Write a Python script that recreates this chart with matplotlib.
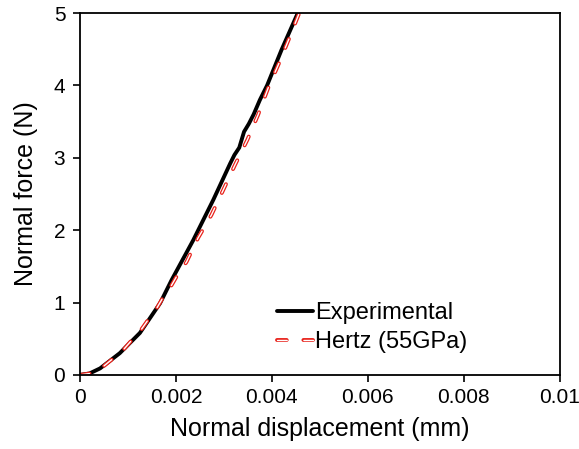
import numpy as np
import matplotlib
matplotlib.use("Agg")
import matplotlib.pyplot as plt

plt.rcParams["font.family"] = ["Liberation Sans", "DejaVu Sans"]
plt.rcParams["lines.scale_dashes"] = False

# values
exp_x = [0, 0.0002, 0.00042, 0.00083, 0.00125, 0.00167, 0.00191, 0.00236, 0.00278,
         0.00313, 0.00322, 0.00332, 0.00342, 0.00352, 0.00362, 0.00375, 0.0039,
         0.0042, 0.00454, 0.0046]
exp_y = [0, 0.02, 0.09, 0.30, 0.58, 0.99, 1.31, 1.86, 2.42,
         2.92, 3.04, 3.14, 3.36, 3.47, 3.60, 3.80, 4.0,
         4.49, 5.0, 5.1]

hertz_x = [0, 0.00021, 0.00042, 0.00066, 0.00087, 0.00108, 0.00125, 0.00142, 0.0016,
           0.00174, 0.00191, 0.00205, 0.00222, 0.00246, 0.00274, 0.00299, 0.00323,
           0.00349, 0.00371, 0.00392, 0.00415, 0.00436, 0.00457, 0.0046]
hertz_y = [0, 0.02, 0.08, 0.21, 0.32, 0.48, 0.60, 0.76, 0.92,
           1.08, 1.24, 1.40, 1.56, 1.89, 2.21, 2.56, 2.90,
           3.25, 3.59, 3.96, 4.31, 4.65, 5.0, 5.05]

x_ticks = [0, 0.002, 0.004, 0.006, 0.008, 0.01]
x_labels = ["0", "0.002", "0.004", "0.006", "0.008", "0.01"]
y_ticks = [0, 1, 2, 3, 4, 5]


def main() -> None:
    fig = plt.figure(figsize=(5.79, 4.49), dpi=100)
    ax = fig.add_axes([0.138, 0.165, 0.829, 0.806])

    (exp_line,) = ax.plot(exp_x, exp_y, color="black", lw=2.8, solid_capstyle="round",
                          solid_joinstyle="round")
    dash = (7, 12)
    (h_out,) = ax.plot(hertz_x, hertz_y, color="#e8221b", lw=2.8, dashes=dash,
                       dash_capstyle="round")
    (h_in,) = ax.plot(hertz_x, hertz_y, color="white", lw=1.0, dashes=dash,
                      dash_capstyle="round")

    ax.set_xlim(0, 0.01)
    ax.set_ylim(0, 5)
    ax.set_xticks(x_ticks)
    ax.set_xticklabels(x_labels)
    ax.set_yticks(y_ticks)
    ax.tick_params(direction="out", length=5, width=1.2, labelsize=15, colors="black")
    ax.tick_params(axis="x", pad=4.5)
    ax.tick_params(axis="y", pad=5.5)
    for s in ax.spines.values():
        s.set_linewidth(1.3)

    ax.set_xlabel("Normal displacement (mm)", fontsize=18, labelpad=7)
    ax.set_ylabel("Normal force (N)", fontsize=18, labelpad=11)

    ax.legend([exp_line, (h_out, h_in)], ["Experimental", "Hertz (55GPa)"],
              loc="center left", bbox_to_anchor=(0.41, 0.13), frameon=False,
              fontsize=17, handlelength=1.55, handletextpad=0.08, borderpad=0,
              borderaxespad=0, labelspacing=0.3)

    fig.savefig("out.png", dpi=100)


if __name__ == "__main__":
    main()
